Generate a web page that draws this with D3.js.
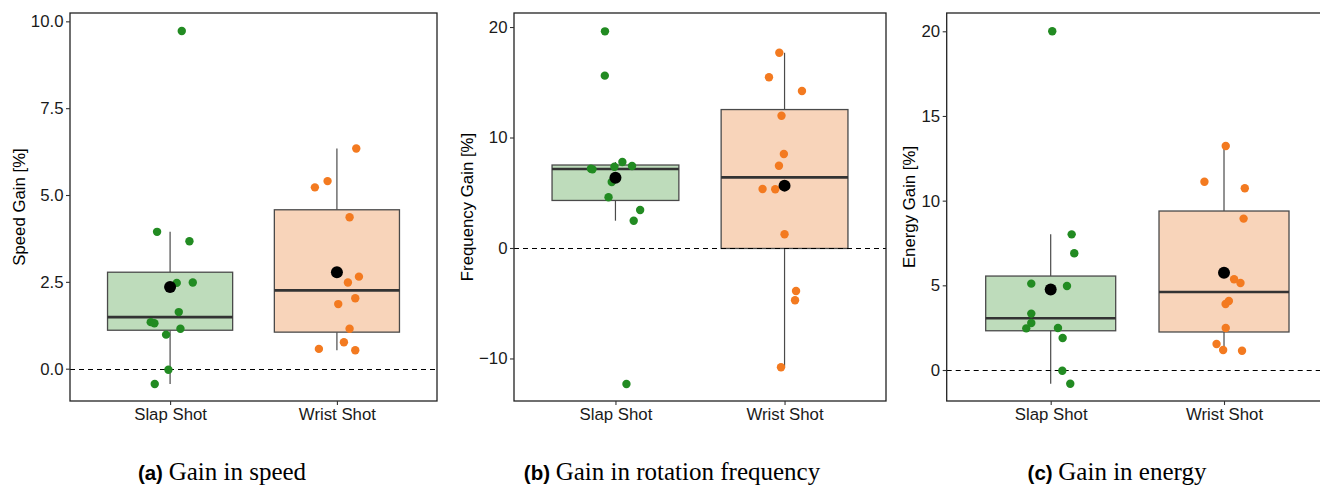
<!DOCTYPE html>
<html>
<head>
<meta charset="utf-8">
<script src="https://cdn.jsdelivr.net/npm/d3@7/dist/d3.min.js"></script>
<style>
  html, body { margin: 0; padding: 0; background: #fff; }
  svg { display: block; }
</style>
</head>
<body>
<svg id="chart" width="1320" height="485"></svg>
<script>
// ---------- DATA ----------
const categories = ["Slap Shot", "Wrist Shot"];

// (a) speed gain [%]
const speedSlap  = [9.72, 3.94, 3.67, 2.47, 2.48, 1.63, 1.34, 1.31, 1.15, 0.98, -0.03, -0.44];
const speedWrist = [6.34, 5.40, 5.22, 4.36, 2.65, 2.48, 2.03, 1.86, 1.15, 0.76, 0.57, 0.53];
const speedJitterSlap  = [0.07, -0.078, 0.116, 0.04, 0.136, 0.052, -0.116, -0.094, 0.062, -0.024, -0.01, -0.092];
const speedJitterWrist = [0.116, -0.056, -0.132, 0.076, 0.132, 0.066, 0.11, 0.008, 0.076, 0.042, -0.108, 0.11];

// (b) rotation frequency gain [%]
const freqSlap  = [19.61, 15.6, 7.78, 7.36, 7.42, 7.17, 7.12, 5.97, 4.59, 3.44, 2.47, -12.31];
const freqWrist = [17.67, 15.45, 14.21, 11.97, 8.51, 7.45, 5.34, 5.31, 1.24, -3.89, -4.73, -10.8];
const freqJitterSlap  = [-0.062, -0.063, 0.041, -0.006, 0.098, -0.145, -0.136, -0.022, -0.041, 0.146, 0.108, 0.065];
const freqJitterWrist = [-0.031, -0.092, 0.103, -0.018, -0.004, -0.033, -0.13, -0.055, 0, 0.068, 0.062, -0.021];

// (c) energy gain [%]
const energySlap  = [20.0, 8.01, 6.89, 5.10, 4.96, 3.33, 2.78, 2.46, 2.48, 1.89, -0.04, -0.81];
const energyWrist = [13.23, 11.12, 10.73, 8.94, 5.36, 5.14, 4.08, 3.90, 2.48, 1.54, 1.18, 1.14];
const energyJitterSlap  = [0.009, 0.121, 0.136, -0.112, 0.094, -0.112, -0.112, -0.141, 0.042, 0.069, 0.067, 0.113];
const energyJitterWrist = [0.01, -0.113, 0.12, 0.113, 0.058, 0.095, 0.028, 0.009, 0.01, -0.043, -0.005, 0.104];

const speedTicks  = [0, 2.5, 5, 7.5, 10];
const freqTicks   = [-10, 0, 10, 20];
const energyTicks = [0, 5, 10, 15, 20];

const axisTitles = ["Speed Gain [%]", "Frequency Gain [%]", "Energy Gain [%]"];
const captionTags = ["(a)", "(b)", "(c)"];
const captionTexts = ["Gain in speed", "Gain in rotation frequency", "Gain in energy"];

// ---------- STYLE / LAYOUT ----------
const pointColors = ["#228B22", "#F37A20"];
const boxFills = ["#BEDCBB", "#F8D4BA"];
const boxStroke = "#4a4a4a";

const panels = [
  { series: [speedSlap, speedWrist], jitter: [speedJitterSlap, speedJitterWrist], ticks: speedTicks, fmt: d3.format(".1f"),
    x0: 70, x1: 437, yDom: [-0.93, 10.24], titleX: 19, captionX: 222 },
  { series: [freqSlap, freqWrist], jitter: [freqJitterSlap, freqJitterWrist], ticks: freqTicks, fmt: d => d < 0 ? "\u2212" + Math.abs(d) : String(d),
    x0: 514, x1: 886, yDom: [-13.85, 21.27], titleX: 467, captionX: 672 },
  { series: [energySlap, energyWrist], jitter: [energyJitterSlap, energyJitterWrist], ticks: energyTicks, fmt: d3.format("d"),
    x0: 946.7, x1: 1328, yDom: [-1.83, 21.08], titleX: 909, captionX: 1117 }
];
const yTop = 13, yBot = 401;
const font = "'Liberation Sans', Arial, Helvetica, sans-serif";

const svg = d3.select("#chart");

function boxStats(vals) {
  const s = vals.slice().sort(d3.ascending);
  const q1 = d3.quantile(s, 0.25), med = d3.quantile(s, 0.5), q3 = d3.quantile(s, 0.75);
  const iqr = q3 - q1;
  const lo = d3.min(s.filter(v => v >= q1 - 1.5 * iqr));
  const hi = d3.max(s.filter(v => v <= q3 + 1.5 * iqr));
  return { q1, med, q3, lo, hi, mean: d3.mean(s) };
}

panels.forEach((p, pi) => {
  const g = svg.append("g");
  const x = d3.scalePoint().domain(categories).range([p.x0, p.x1]).padding(0.6);
  const y = d3.scaleLinear().domain(p.yDom).range([yBot, yTop]);
  const step = x.step();
  const bw = step * 0.75;

  // boxes
  categories.forEach((c, ci) => {
    const st = boxStats(p.series[ci]);
    const cx = x(c);
    g.append("line").attr("x1", cx).attr("x2", cx).attr("y1", y(st.q3)).attr("y2", y(st.hi))
      .attr("stroke", boxStroke).attr("stroke-width", 1.2);
    g.append("line").attr("x1", cx).attr("x2", cx).attr("y1", y(st.q1)).attr("y2", y(st.lo))
      .attr("stroke", boxStroke).attr("stroke-width", 1.2);
    g.append("rect").attr("x", cx - bw / 2).attr("width", bw)
      .attr("y", y(st.q3)).attr("height", y(st.q1) - y(st.q3))
      .attr("fill", boxFills[ci]).attr("stroke", boxStroke).attr("stroke-width", 1.3);
    g.append("line").attr("x1", cx - bw / 2).attr("x2", cx + bw / 2)
      .attr("y1", y(st.med)).attr("y2", y(st.med))
      .attr("stroke", "#333").attr("stroke-width", 2.6);
  });

  // zero reference line
  g.append("line").attr("x1", p.x0).attr("x2", p.x1).attr("y1", Math.round(y(0)) + 0.5).attr("y2", Math.round(y(0)) + 0.5)
    .attr("stroke", "#000").attr("stroke-width", 1.2).attr("stroke-dasharray", "5,4");

  // jittered points
  categories.forEach((c, ci) => {
    g.selectAll(null).data(p.series[ci]).enter().append("circle")
      .attr("cx", (d, i) => x(c) + p.jitter[ci][i] * step)
      .attr("cy", d => y(d))
      .attr("r", 4.2)
      .attr("fill", pointColors[ci]);
    const st = boxStats(p.series[ci]);
    g.append("circle").attr("cx", x(c)).attr("cy", y(st.mean)).attr("r", 6).attr("fill", "#000");
  });

  // frame
  g.append("rect").attr("x", p.x0).attr("y", yTop).attr("width", p.x1 - p.x0).attr("height", yBot - yTop)
    .attr("fill", "none").attr("stroke", "#222").attr("stroke-width", 1.3);

  // y axis
  const ya = g.append("g").attr("transform", `translate(${p.x0},0)`)
    .call(d3.axisLeft(y).tickValues(p.ticks).tickFormat(p.fmt).tickSize(4).tickPadding(2.5));
  ya.select(".domain").remove();
  ya.selectAll(".tick line").attr("stroke", "#333").attr("stroke-width", 1.1);
  ya.selectAll(".tick text").attr("font-family", font).attr("font-size", 16.8).attr("fill", "#1a1a1a");

  // x axis
  const xa = g.append("g").attr("transform", `translate(0,${yBot})`)
    .call(d3.axisBottom(x).tickSize(4).tickPadding(3));
  xa.select(".domain").remove();
  xa.selectAll(".tick line").attr("stroke", "#333").attr("stroke-width", 1.1);
  xa.selectAll(".tick text").attr("font-family", font).attr("font-size", 16.8).attr("fill", "#1a1a1a");

  // y title
  g.append("text").attr("transform", `translate(${p.titleX},${(yTop + yBot) / 2}) rotate(-90)`)
    .attr("text-anchor", "middle").attr("dominant-baseline", "central")
    .attr("font-family", font).attr("font-size", 16.8).attr("fill", "#000")
    .text(axisTitles[pi]);

  // caption
  const cap = svg.append("text").attr("x", p.captionX).attr("y", 480).attr("text-anchor", "middle");
  cap.append("tspan").attr("font-family", font).attr("font-weight", "bold").attr("font-size", 20.5)
    .text(captionTags[pi] + " ");
  cap.append("tspan").attr("font-family", "'Liberation Serif', 'Times New Roman', serif").attr("font-size", 25)
    .text(captionTexts[pi]);
});
</script>
</body>
</html>
